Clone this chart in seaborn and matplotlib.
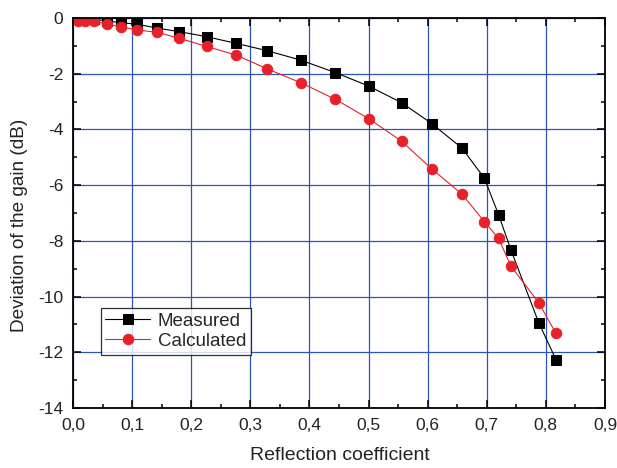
import matplotlib
matplotlib.use('Agg')
import matplotlib.pyplot as plt
import seaborn as sns
import numpy as np
from matplotlib.ticker import AutoMinorLocator

# Reflection coefficient values (shared by both series)
refl = [0.009, 0.020, 0.036, 0.057, 0.081, 0.108, 0.142, 0.180, 0.226, 0.276,
        0.328, 0.385, 0.444, 0.500, 0.556, 0.607, 0.658, 0.696, 0.720, 0.741,
        0.788, 0.817]

# Deviation of the gain (dB)
measured = [-0.02, -0.03, -0.05, -0.10, -0.17, -0.22, -0.36, -0.49, -0.67, -0.91,
            -1.17, -1.51, -1.96, -2.44, -3.04, -3.79, -4.67, -5.75, -7.06, -8.33,
            -10.94, -12.26]
calculated = [-0.10, -0.10, -0.11, -0.22, -0.31, -0.43, -0.51, -0.73, -1.02, -1.33,
              -1.82, -2.32, -2.92, -3.61, -4.42, -5.42, -6.32, -7.31, -7.91, -8.91,
              -10.22, -11.32]

x_ticks = [0.0, 0.1, 0.2, 0.3, 0.4, 0.5, 0.6, 0.7, 0.8, 0.9]
x_labels = ['0,0', '0,1', '0,2', '0,3', '0,4', '0,5', '0,6', '0,7', '0,8', '0,9']
y_ticks = [0, -2, -4, -6, -8, -10, -12, -14]

sns.set_style('ticks')
plt.rcParams['font.family'] = ['Liberation Sans', 'DejaVu Sans']

fig = plt.figure(figsize=(6.17, 4.68), dpi=100)
ax = fig.add_axes([0.1183, 0.1282, 0.8622, 0.8333])

# Grid first so it stays behind the data
ax.set_axisbelow(True)
ax.grid(True, which='major', color='#2a55b5', linewidth=0.9)

sns.lineplot(x=refl, y=measured, ax=ax, color='black', marker='s', markersize=6.8,
             markeredgecolor='black', linewidth=0.8, label='Measured', sort=False)
sns.lineplot(x=refl, y=calculated, ax=ax, color='#e8202a', marker='o', markersize=7.5,
             markeredgecolor='#e8202a', linewidth=0.8, label='Calculated', sort=False)

ax.set_xlim(0, 0.9)
ax.set_ylim(-14, 0)
ax.set_xticks(x_ticks)
ax.set_xticklabels(x_labels)
ax.set_yticks(y_ticks)
ax.set_yticklabels([str(v) for v in y_ticks])
ax.xaxis.set_minor_locator(AutoMinorLocator(2))
ax.yaxis.set_minor_locator(AutoMinorLocator(2))
ax.tick_params(which='both', direction='in', top=True, right=True, labelsize=12.5,
               width=1.1, color='black', labelcolor='#222222')
ax.tick_params(which='major', length=6, pad=7)
ax.tick_params(which='minor', length=3)
for s in ax.spines.values():
    s.set_linewidth(1.3)
    s.set_color('black')

ax.set_xlabel('Reflection coefficient', fontsize=14, color='#222222')
ax.set_ylabel('Deviation of the gain (dB)', fontsize=13.7, color='#222222')
ax.xaxis.set_label_coords(0.502, -0.1)
ax.yaxis.set_label_coords(-0.085, 0.468)

leg = ax.legend(loc='lower left', bbox_to_anchor=(0.052, 0.137), fontsize=13.5,
                frameon=True, fancybox=False, edgecolor='black', borderpad=0.25,
                handlelength=2.4, handletextpad=0.4, labelspacing=0.15,
                borderaxespad=0)
leg.get_frame().set_linewidth(0.9)

fig.savefig('out.png', dpi=100)
